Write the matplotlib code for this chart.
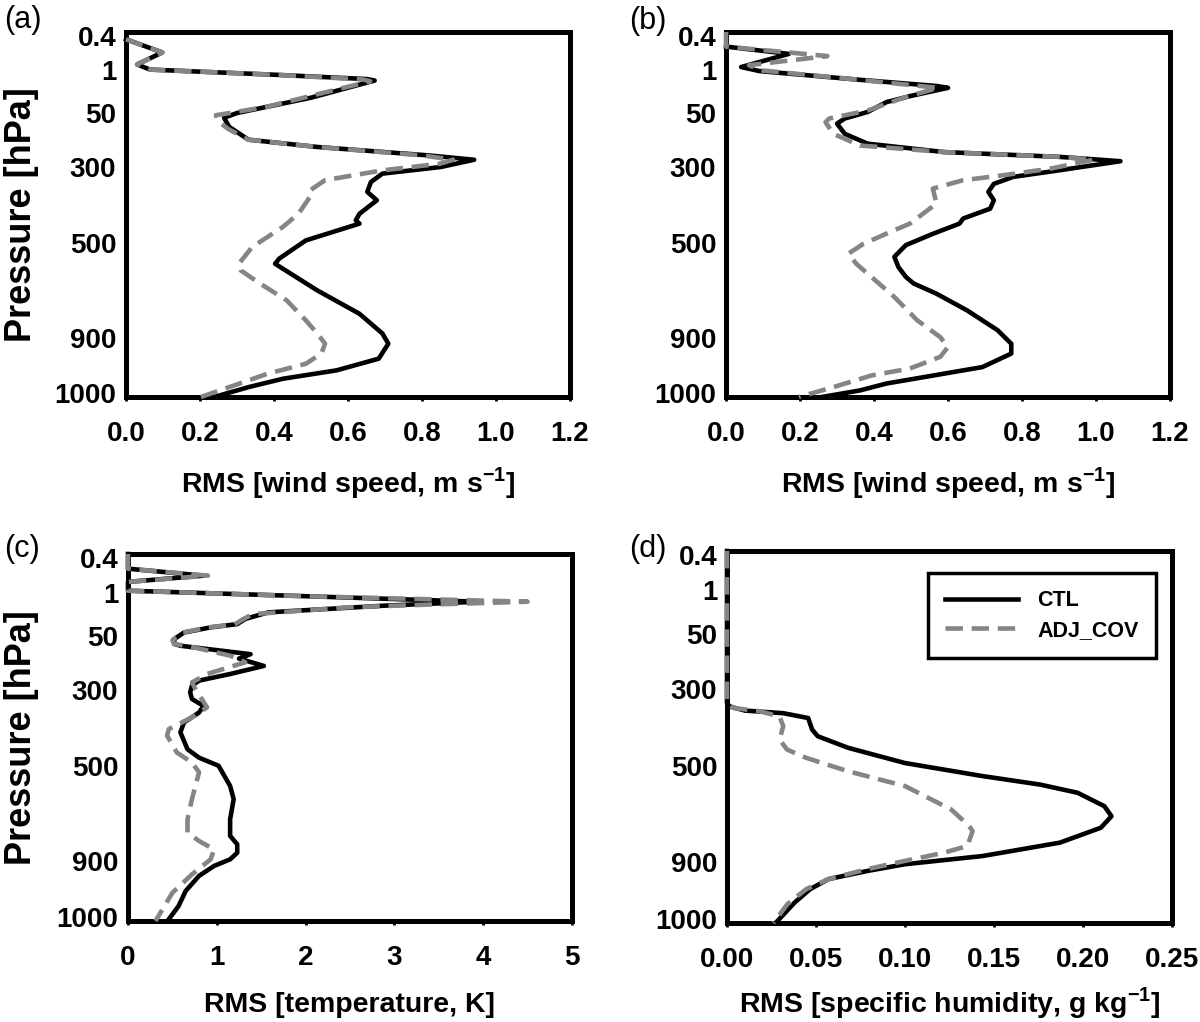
import numpy as np
import matplotlib
matplotlib.use("Agg")
import matplotlib.pyplot as plt

plt.rcParams['font.family'] = ['Liberation Sans', 'DejaVu Sans']
plt.rcParams['mathtext.fontset'] = 'custom'
plt.rcParams['mathtext.rm'] = 'Liberation Sans'
plt.rcParams['mathtext.bf'] = 'Liberation Sans:bold'

# vertical coordinate: model level position, 0 = top (0.4 hPa), 1 = bottom (1000 hPa)
level_pos = [0.012, 0.105, 0.223, 0.37, 0.578, 0.837, 0.99]
level_labels = ["0.4", "1", "50", "300", "500", "900", "1000"]

# (a) wind speed, first set
a_ctl_x = [0, 0.098, 0.030, 0.065, 0.40, 0.652, 0.672, 0.50, 0.30, 0.265, 0.279, 0.331,
           0.517, 0.817, 0.941, 0.85, 0.693, 0.662, 0.652, 0.678, 0.631, 0.621, 0.631,
           0.486, 0.414, 0.403, 0.445, 0.517, 0.631, 0.693, 0.709, 0.683, 0.569, 0.424,
           0.331, 0.238]
a_ctl_y = [0.02, 0.056, 0.089, 0.103, 0.117, 0.129, 0.133, 0.18, 0.222, 0.235, 0.26, 0.295,
           0.315, 0.338, 0.35, 0.37, 0.388, 0.411, 0.438, 0.461, 0.498, 0.516, 0.525,
           0.571, 0.621, 0.635, 0.662, 0.708, 0.772, 0.826, 0.854, 0.895, 0.927, 0.95,
           0.973, 1.0]
a_cov_x = [0, 0.098, 0.030, 0.065, 0.40, 0.64, 0.66, 0.50, 0.38, 0.28, 0.243, 0.25, 0.275,
           0.33, 0.517, 0.80, 0.884, 0.848, 0.693, 0.538, 0.497, 0.497, 0.466, 0.424,
           0.341, 0.305, 0.310, 0.362, 0.434, 0.486, 0.517, 0.538, 0.528, 0.486, 0.383,
           0.279, 0.202]
a_cov_y = [0.02, 0.056, 0.089, 0.103, 0.117, 0.13, 0.135, 0.175, 0.205, 0.222, 0.228, 0.245,
           0.265, 0.295, 0.315, 0.338, 0.35, 0.361, 0.379, 0.406, 0.434, 0.452, 0.498,
           0.534, 0.589, 0.635, 0.653, 0.689, 0.735, 0.79, 0.826, 0.854, 0.881, 0.909,
           0.936, 0.973, 1.0]

# (b) wind speed, second set
b_ctl_x = [0, 0.17, 0.041, 0.09, 0.35, 0.57, 0.60, 0.50, 0.434, 0.383, 0.321, 0.30, 0.321,
           0.383, 0.59, 0.90, 1.066, 0.90, 0.776, 0.724, 0.709, 0.724, 0.714, 0.641, 0.631,
           0.559, 0.486, 0.455, 0.466, 0.486, 0.507, 0.569, 0.652, 0.734, 0.771, 0.771,
           0.693, 0.538, 0.434, 0.362, 0.259]
b_ctl_y = [0.04, 0.06, 0.096, 0.107, 0.13, 0.148, 0.153, 0.175, 0.192, 0.219, 0.237, 0.251,
           0.279, 0.306, 0.329, 0.342, 0.354, 0.379, 0.397, 0.416, 0.438, 0.461, 0.484,
           0.511, 0.525, 0.553, 0.584, 0.616, 0.644, 0.671, 0.689, 0.717, 0.763, 0.817,
           0.854, 0.881, 0.918, 0.945, 0.963, 0.982, 1.0]
b_cov_x = [0, 0, 0.274, 0.062, 0.093, 0.35, 0.574, 0.486, 0.383, 0.279, 0.269, 0.29, 0.362,
           0.59, 0.90, 0.993, 0.879, 0.745, 0.641, 0.559, 0.569, 0.497, 0.455, 0.372, 0.331,
           0.352, 0.393, 0.455, 0.517, 0.579, 0.60, 0.579, 0.497, 0.393, 0.29, 0.197]
b_cov_y = [0.0, 0.04, 0.066, 0.091, 0.105, 0.13, 0.153, 0.178, 0.215, 0.237, 0.247, 0.279,
           0.311, 0.329, 0.342, 0.35, 0.374, 0.393, 0.406, 0.429, 0.47, 0.525, 0.543, 0.58,
           0.607, 0.635, 0.671, 0.726, 0.79, 0.836, 0.863, 0.89, 0.922, 0.941, 0.973, 1.0]

# (c) temperature
c_ctl_x = [0, 0, 0.85, 0, 0, 2.0, 3.94, 2.87, 1.58, 1.32, 1.23, 0.93, 0.63, 0.52, 0.52, 0.59,
           1.38, 1.25, 1.53, 1.15, 0.80, 0.72, 0.70, 0.72, 0.85, 0.80, 0.63, 0.59, 0.67, 0.80,
           1.02, 1.15, 1.19, 1.15, 1.15, 1.23, 1.23, 1.15, 0.97, 0.80, 0.65, 0.57, 0.46]
c_ctl_y = [0.0, 0.04, 0.059, 0.076, 0.1, 0.115, 0.13, 0.141, 0.159, 0.177, 0.191, 0.2, 0.214,
           0.232, 0.245, 0.25, 0.273, 0.285, 0.305, 0.327, 0.345, 0.359, 0.377, 0.395, 0.414,
           0.432, 0.459, 0.486, 0.532, 0.555, 0.577, 0.632, 0.668, 0.723, 0.768, 0.791,
           0.814, 0.832, 0.85, 0.877, 0.918, 0.959, 0.995]
c_cov_x = [0, 0, 0.9, 0, 0, 2.0, 4.5, 3.5, 2.5, 1.40, 1.28, 1.2, 0.9, 0.6, 0.50, 0.52, 0.75,
           1.15, 1.32, 0.89, 0.72, 0.76, 0.89, 0.72, 0.46, 0.44, 0.55, 0.72, 0.80, 0.72, 0.67,
           0.67, 0.80, 0.97, 0.93, 0.72, 0.50, 0.31]
c_cov_y = [0.0, 0.04, 0.059, 0.076, 0.1, 0.115, 0.13, 0.137, 0.145, 0.164, 0.18, 0.192, 0.2,
           0.215, 0.235, 0.245, 0.255, 0.277, 0.295, 0.327, 0.35, 0.368, 0.418, 0.445, 0.477,
           0.495, 0.541, 0.568, 0.595, 0.668, 0.723, 0.759, 0.782, 0.805, 0.832, 0.873,
           0.923, 1.0]

# (d) specific humidity
d_ctl_x = [0, 0, 0.0015, 0.0101, 0.0316, 0.0456, 0.0478, 0.051, 0.068, 0.1, 0.1435, 0.176,
           0.197, 0.212, 0.216, 0.21, 0.187, 0.1435, 0.1, 0.079, 0.057, 0.0467, 0.038, 0.0273]
d_ctl_y = [0.0, 0.409, 0.418, 0.429, 0.436, 0.449, 0.48, 0.498, 0.529, 0.57, 0.605, 0.628,
           0.65, 0.686, 0.713, 0.744, 0.784, 0.82, 0.842, 0.86, 0.882, 0.909, 0.945, 1.0]
d_cov_x = [0, 0, 0.0037, 0.0187, 0.0295, 0.0316, 0.0295, 0.0338, 0.0445, 0.068, 0.1, 0.126,
           0.136, 0.138, 0.135, 0.122, 0.1, 0.079, 0.057, 0.0445, 0.034, 0.026]
d_cov_y = [0.0, 0.409, 0.422, 0.431, 0.445, 0.471, 0.507, 0.534, 0.556, 0.592, 0.632, 0.695,
           0.739, 0.753, 0.793, 0.811, 0.833, 0.855, 0.882, 0.909, 0.949, 1.0]

W, H = 1200, 1022
fig = plt.figure(figsize=(W / 100, H / 100), dpi=100)


def px_axes(l, t, r, b):
    return fig.add_axes([l / W, 1 - b / H, (r - l) / W, (b - t) / H])


panels = [
    dict(box=(126, 32, 570, 397), tag="(a)", tagpos=(23, 20), xlab_y=483,
         ctl=(a_ctl_x, a_ctl_y), cov=(a_cov_x, a_cov_y),
         xticks=np.arange(0, 1.21, 0.2), fmt="{:.1f}", xmax=1.2,
         xlabel=r"RMS [wind speed, m s$^{\mathbf{-1}}$]", ylabel=True),
    dict(box=(726, 32, 1170, 397), tag="(b)", tagpos=(648, 21), xlab_y=483,
         ctl=(b_ctl_x, b_ctl_y), cov=(b_cov_x, b_cov_y),
         xticks=np.arange(0, 1.21, 0.2), fmt="{:.1f}", xmax=1.2,
         xlabel=r"RMS [wind speed, m s$^{\mathbf{-1}}$]", ylabel=False),
    dict(box=(128, 554, 572, 921), tag="(c)", tagpos=(22, 549), xlab_y=1005,
         ctl=(c_ctl_x, c_ctl_y), cov=(c_cov_x, c_cov_y),
         xticks=np.arange(0, 5.1, 1), fmt="{:.0f}", xmax=5,
         xlabel="RMS [temperature, K]", ylabel=True),
    dict(box=(727, 551, 1172, 923), tag="(d)", tagpos=(648, 549), xlab_y=1003,
         ctl=(d_ctl_x, d_ctl_y), cov=(d_cov_x, d_cov_y),
         xticks=np.arange(0, 0.251, 0.05), fmt="{:.2f}", xmax=0.25,
         xlabel=r"RMS [specific humidity, g kg$^{\mathbf{-1}}$]", ylabel=False),
]

for p in panels:
    l, t, r, b = p["box"]
    ax = px_axes(l, t, r, b)
    h = b - t
    ax.plot(p["ctl"][0], p["ctl"][1], color="black", lw=3.3, zorder=3,
            clip_on=False, solid_joinstyle="round", label="CTL")
    ax.plot(p["cov"][0], p["cov"][1], color="#858585", lw=3.3, zorder=4,
            clip_on=False, dashes=(3.8, 1.9), dash_capstyle="butt", label="ADJ_COV")
    ax.set_xlim(0, p["xmax"])
    ax.set_ylim(1, 0)
    ax.set_xticks(p["xticks"])
    ax.set_xticklabels([p["fmt"].format(v) for v in p["xticks"]],
                       fontsize=20, fontweight="bold")
    ax.set_yticks(level_pos)
    ax.set_yticklabels(level_labels, fontsize=20, fontweight="bold")
    ax.tick_params(axis="x", length=3, width=2, pad=14, direction="out")
    ax.tick_params(axis="y", length=0, pad=7)
    for s in ax.spines.values():
        s.set_linewidth(3.6)
        s.set_color("black")
    ax.set_xlabel(p["xlabel"], fontsize=20.5, fontweight="bold", va="center")
    ax.xaxis.set_label_coords(0.5, (b - p["xlab_y"]) / h)
    if p["ylabel"]:
        ax.set_ylabel("Pressure [hPa]", fontsize=26, fontweight="bold", va="center")
        ax.yaxis.set_label_coords((22 - l) / (r - l), 0.5)
    fig.text(p["tagpos"][0] / W, 1 - p["tagpos"][1] / H, p["tag"], fontsize=22,
             ha="center", va="center")
    if p["tag"] == "(d)":
        leg = ax.legend(loc="upper right", bbox_to_anchor=(0.964, 0.941),
                        borderaxespad=0, handlelength=3.4,
                        handletextpad=0.9, labelspacing=0.4, borderpad=0.8,
                        fancybox=False, framealpha=1, edgecolor="black",
                        prop=dict(weight="bold", size=15.5))
        leg.get_frame().set_linewidth(2.5)

fig.savefig("out.png", dpi=100)
